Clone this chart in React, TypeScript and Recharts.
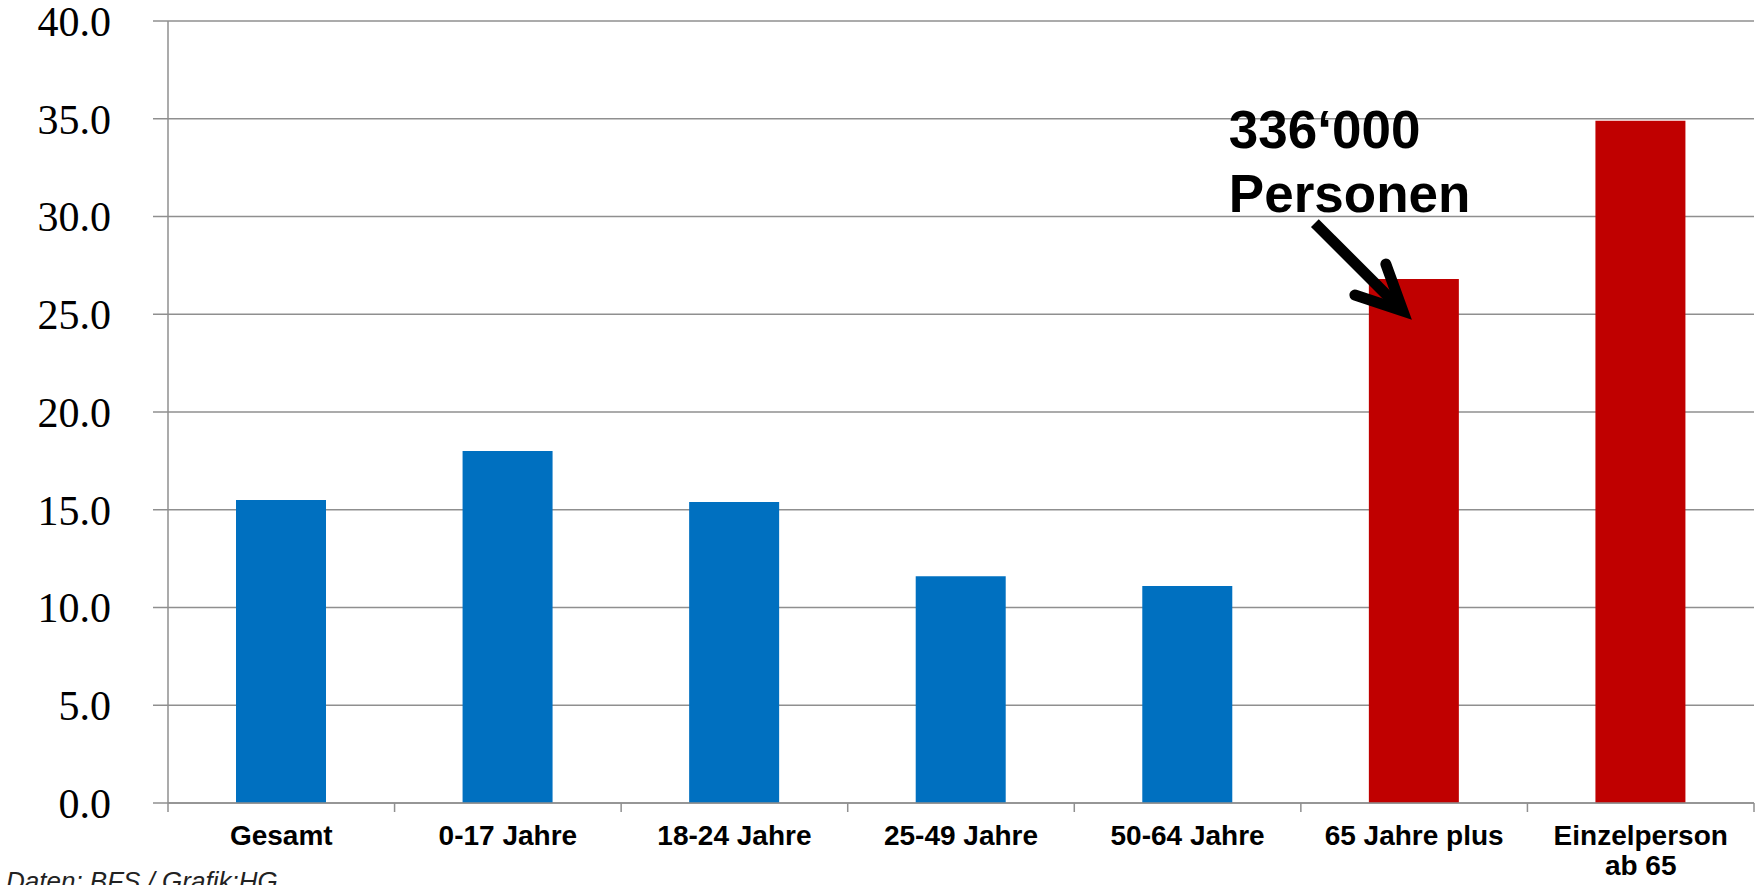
import { BarChart, Bar, XAxis, YAxis, CartesianGrid, Cell, LabelList } from "recharts";

// Armutsquote nach Altersgruppe, in Prozent
const categories = [
  "Gesamt",
  "0-17 Jahre",
  "18-24 Jahre",
  "25-49 Jahre",
  "50-64 Jahre",
  "65 Jahre plus",
  "Einzelperson\nab 65",
];
const rates = [15.5, 18.0, 15.4, 11.6, 11.1, 26.8, 34.9];
const barColors = ["#0070C0", "#0070C0", "#0070C0", "#0070C0", "#0070C0", "#C00000", "#C00000"];
const yTicks = [0, 5, 10, 15, 20, 25, 30, 35, 40];

const calloutCategory = "65 Jahre plus";
const calloutLines = ["336‘000", "Personen"];
const sourceNote = "Daten: BFS / Grafik:HG";

const data = categories.map((name, i) => ({ name, rate: rates[i] }));

const GRID = "#8f8f8f";
const SANS = "'Liberation Sans', Arial, sans-serif";

function CategoryTick(props: any) {
  const { x, y, payload, index, visibleTicksCount, width } = props;
  const half = width / visibleTicksCount / 2;
  const axisY = y - 8;
  const lines = String(payload.value).split("\n");
  return (
    <g>
      <line x1={x - half} x2={x - half} y1={axisY} y2={axisY + 9} stroke={GRID} strokeWidth={1.5} />
      {index === visibleTicksCount - 1 && (
        <line x1={x + half} x2={x + half} y1={axisY} y2={axisY + 9} stroke={GRID} strokeWidth={1.5} />
      )}
      <text
        x={x}
        y={axisY + 42}
        textAnchor="middle"
        fontFamily={SANS}
        fontWeight="bold"
        fontSize={28}
        fill="#000"
      >
        {lines.map((line, i) => (
          <tspan key={i} x={x} dy={i === 0 ? 0 : 30}>
            {line}
          </tspan>
        ))}
      </text>
    </g>
  );
}

function Callout(props: any) {
  const { x, y, value } = props;
  if (value !== calloutCategory) return null;
  return (
    <g>
      {calloutLines.map((line, i) => (
        <text
          key={i}
          x={x - 140}
          y={y - 131 + i * 64}
          fontFamily={SANS}
          fontWeight="bold"
          fontSize={53}
          fill="#000"
        >
          {line}
        </text>
      ))}
      <line x1={x - 54} y1={y - 56} x2={x + 32} y2={y + 30} stroke="#000" strokeWidth={11} />
      <polyline
        points={`${x + 17},${y - 15} ${x + 34},${y + 32} ${x - 14},${y + 16}`}
        fill="none"
        stroke="#000"
        strokeWidth={11}
        strokeLinecap="round"
        strokeLinejoin="miter"
      />
    </g>
  );
}

export default function App() {
  return (
    <div
      style={{
        position: "absolute",
        top: 0,
        left: 0,
        width: 1760,
        height: 885,
        overflow: "hidden",
        background: "#fff",
      }}
    >
      <BarChart
        width={1760}
        height={885}
        data={data}
        margin={{ top: 21, right: 6, bottom: 0, left: 0 }}
      >
        <CartesianGrid vertical={false} stroke={GRID} strokeWidth={1.5} />
        <XAxis
          dataKey="name"
          height={82}
          axisLine={{ stroke: GRID, strokeWidth: 1.5 }}
          tickLine={false}
          tickSize={8}
          tickMargin={0}
          interval={0}
          tick={<CategoryTick />}
        />
        <YAxis
          width={168}
          domain={[0, 40]}
          ticks={yTicks}
          interval={0}
          axisLine={{ stroke: GRID, strokeWidth: 1.5 }}
          tickLine={{ stroke: GRID, strokeWidth: 1.5 }}
          tickSize={15}
          tickMargin={42}
          tickFormatter={(v: number) => v.toFixed(1)}
          tick={{ fill: "#000", fontSize: 42, fontFamily: "'Liberation Serif', serif" }}
        />
        <Bar dataKey="rate" barSize={90} isAnimationActive={false}>
          {data.map((d, i) => (
            <Cell key={d.name} fill={barColors[i]} />
          ))}
          <LabelList dataKey="name" content={<Callout />} />
        </Bar>
      </BarChart>
      <div
        style={{
          position: "absolute",
          left: 6,
          top: 868,
          fontFamily: SANS,
          fontStyle: "italic",
          fontSize: 26,
          lineHeight: "26px",
          color: "#222",
          whiteSpace: "nowrap",
        }}
      >
        {sourceNote}
      </div>
    </div>
  );
}
